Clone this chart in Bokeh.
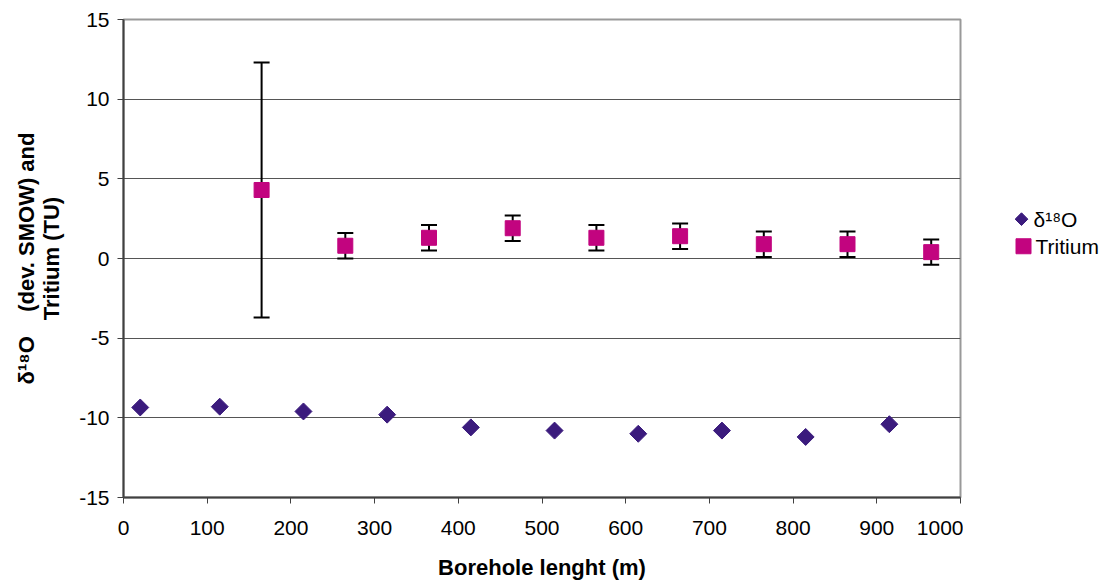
import math
from bokeh.plotting import figure
from bokeh.layouts import row
from bokeh.models import ColumnDataSource, Whisker, TeeHead, FixedTicker, Range1d
from bokeh.core.properties import value
from bokeh.embed import file_html
from bokeh.resources import INLINE

# data
d18o_x = [20, 115, 215, 315, 415, 515, 615, 715, 815, 915]
d18o_y = [-9.35, -9.3, -9.6, -9.8, -10.6, -10.8, -11.0, -10.8, -11.2, -10.4]
tritium_x = [165, 265, 365, 465, 565, 665, 765, 865, 965]
tritium_y = [4.3, 0.8, 1.3, 1.9, 1.3, 1.4, 0.9, 0.9, 0.4]
tritium_err = [8.0, 0.8, 0.8, 0.8, 0.8, 0.8, 0.8, 0.8, 0.8]
x_ticks = [0, 100, 200, 300, 400, 500, 600, 700, 800, 900, 1000]
y_ticks = [-15, -10, -5, 0, 5, 10, 15]
y_tick_labels = ["-15", "-10", "-5", "0", "5", "10", "15"]
legend_labels = ["δ¹⁸O", "Tritium"]

FONT = "Liberation Sans"
D_COLOR = "#3B1B7D"
T_COLOR = "#C2047F"

p = figure(frame_width=837, frame_height=478, output_backend="svg", toolbar_location=None,
           x_range=Range1d(0, 1000), y_range=Range1d(-15, 15),
           min_border_left=123, min_border_right=3, min_border_top=19, min_border_bottom=70)

p.background_fill_color = "white"
p.border_fill_color = "white"
p.outline_line_color = "#999999"
p.outline_line_width = 2

p.xgrid.grid_line_color = None
p.ygrid.grid_line_color = "#555555"
p.ygrid.grid_line_width = 1

p.xaxis.ticker = FixedTicker(ticks=x_ticks)
p.yaxis.ticker = FixedTicker(ticks=y_ticks)
p.yaxis.major_label_overrides = {t: s for t, s in zip(y_ticks, y_tick_labels)}

for ax in (p.xaxis, p.yaxis):
    ax.axis_line_color = "#404040"
    ax.axis_line_width = 2
    ax.major_tick_line_color = "#404040"
    ax.major_tick_line_width = 1
    ax.major_tick_out = 6
    ax.major_tick_in = 0
    ax.minor_tick_line_color = None
    ax.major_label_text_font = FONT
    ax.major_label_text_font_size = "21px"
    ax.major_label_text_color = "black"
    ax.axis_label_text_font = FONT
    ax.axis_label_text_font_size = "22px"
    ax.axis_label_text_font_style = "bold"
    ax.axis_label_text_color = "black"

NB = "\u00a0"
p.xaxis.axis_label = "Borehole lenght (m)"
p.xaxis.major_label_standoff = 17
p.xaxis.axis_label_standoff = 17
p.yaxis.axis_label = "δ¹⁸O" + NB * 4 + "(dev. SMOW) and\nTritium (TU)"
p.yaxis.axis_label_text_line_height = 1.0
p.yaxis.major_label_standoff = 8
p.yaxis.axis_label_standoff = 12

src_t = ColumnDataSource(data=dict(
    x=tritium_x, y=tritium_y,
    upper=[v + e for v, e in zip(tritium_y, tritium_err)],
    lower=[v - e for v, e in zip(tritium_y, tritium_err)],
))
src_d = ColumnDataSource(data=dict(x=d18o_x, y=d18o_y))

wh = Whisker(source=src_t, base="x", upper="upper", lower="lower", dimension="height",
             line_color="black", line_width=2,
             upper_head=TeeHead(size=16, line_color="black", line_width=2),
             lower_head=TeeHead(size=16, line_color="black", line_width=2))
p.add_layout(wh)

p.scatter("x", "y", source=src_d, marker="square", angle=math.pi / 4, size=12,
          fill_color=D_COLOR, line_color=D_COLOR)
p.scatter("x", "y", source=src_t, marker="square", size=15,
          fill_color=T_COLOR, line_color=T_COLOR)

# legend panel (separate figure, pixel-like coordinates, y downwards)
lg = figure(width=147, height=583, output_backend="svg", toolbar_location=None,
            x_range=Range1d(963, 1110), y_range=Range1d(583, 0),
            x_axis_type=None, y_axis_type=None,
            min_border_left=0, min_border_right=0, min_border_top=0, min_border_bottom=0)
lg.grid.grid_line_color = None
lg.outline_line_color = None
lg.background_fill_color = "white"
lg.border_fill_color = "white"

lg.scatter([1021], [243], marker="square", angle=math.pi / 4, size=9,
           fill_color=D_COLOR, line_color=D_COLOR)
lg.scatter([1023], [276], marker="square", size=15,
           fill_color=T_COLOR, line_color=T_COLOR)
lg.text(x=[1033, 1035], y=[243, 276], text=legend_labels,
        text_font=value(FONT), text_font_size="21px", text_color="black",
        text_baseline="middle", text_align="left")

layout = row(p, lg)
open("out.html", "w").write(file_html(layout, INLINE))
